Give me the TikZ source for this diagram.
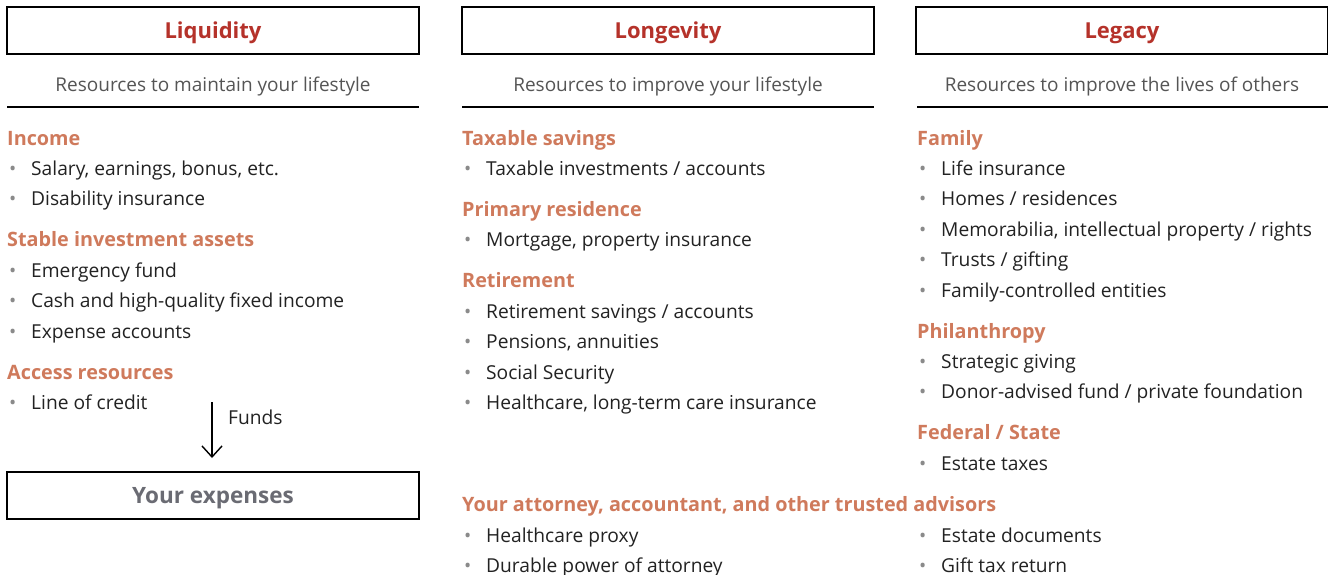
\documentclass[tikz,border=0pt]{standalone}
\usepackage{fontspec}
\setmainfont{Open Sans}
\usepackage{xcolor}
\usetikzlibrary{positioning, arrows.meta}

\definecolor{titlered}{HTML}{B5322A}
\definecolor{headorange}{HTML}{CF7A5C}
\definecolor{subgray}{HTML}{555555}
\definecolor{itemblack}{HTML}{222222}
\definecolor{bulletgray}{HTML}{8A8A8A}
\definecolor{boxgray}{HTML}{6A6B73}

\newcommand{\bul}{\makebox[24pt][l]{\hspace{2pt}\textcolor{bulletgray}{\textbullet}}}

\begin{document}
\begin{tikzpicture}[x=1pt, y=-1pt,
  titlebox/.style={draw, line width=1.6pt, minimum width=412pt, minimum height=47pt, font=\fontsize{22}{24}\selectfont\bfseries, text=titlered, inner sep=0pt, text depth=0pt},
  subtitle/.style={font=\fontsize{19}{21}\selectfont, text=subgray, inner sep=0pt, yshift=-3pt},
  heading/.style={anchor=mid west, font=\fontsize{19.8}{21}\selectfont\bfseries, text=headorange, inner sep=0pt, yshift=-5pt},
  item/.style={anchor=mid west, font=\fontsize{19.2}{21}\selectfont, text=itemblack, inner sep=0pt, yshift=-5pt}]
    \useasboundingbox (0,0) rectangle (1328,575);
    % Boxes
    \node[titlebox] (liq) at (213,30.5) {Liquidity};
    \node[titlebox] (lon) at (668,30.5) {Longevity};
    \node[titlebox] (leg) at (1122,30.5) {Legacy};
    % Subtitles and rules
    \node[subtitle] (liqsub) at (213,84) {Resources to maintain your lifestyle};
    \node[subtitle] (lonsub) at (668,84) {Resources to improve your lifestyle};
    \node[subtitle] (legsub) at (1122,84) {Resources to improve the lives of others};
    \draw[line width=1.6pt] (7,107) -- (419,107);
    \draw[line width=1.6pt] (462,107) -- (874,107);
    \draw[line width=1.6pt] (917,107) -- (1328,107);
    % Liquidity
    \node[heading] (income) at (7,138) {Income};
    \node[item] (salary) at (7,168) {\bul Salary, earnings, bonus, etc.};
    \node[item] (disab) at (7,198) {\bul Disability insurance};
    \node[heading] (stable) at (7,239) {Stable investment assets};
    \node[item] (emerg) at (7,270) {\bul Emergency fund};
    \node[item] (cash) at (7,300) {\bul Cash and high-quality fixed income};
    \node[item] (expacc) at (7,331) {\bul Expense accounts};
    \node[heading] (access) at (7,372) {Access resources};
    \node[item] (credit) at (7,402) {\bul Line of credit};
    \node[titlebox, text=boxgray, font=\fontsize{22.5}{24}\selectfont\bfseries] (expenses) at (213,495.5) {Your expenses};
    \coordinate (fundtop) at (212,402);
    \coordinate (fundend) at (212,458);
    \draw[-{Straight Barb[length=11pt,width=20pt]}, line width=1.4pt] (fundtop) -- (fundend);
    \node[item] (funds) at (228,417) {Funds};
    % Longevity
    \node[heading] (taxable) at (462,138) {Taxable savings};
    \node[item] (taxinv) at (462,168) {\bul Taxable investments / accounts};
    \node[heading] (primary) at (462,209) {Primary residence};
    \node[item] (mortgage) at (462,239) {\bul Mortgage, property insurance};
    \node[heading] (retire) at (462,280) {Retirement};
    \node[item] (retsav) at (462,311) {\bul Retirement savings / accounts};
    \node[item] (pension) at (462,341) {\bul Pensions, annuities};
    \node[item] (social) at (462,372) {\bul Social Security};
    \node[item] (health) at (462,402) {\bul Healthcare, long-term care insurance};
    % Legacy
    \node[heading] (family) at (917,138) {Family};
    \node[item] (life) at (917,168) {\bul Life insurance};
    \node[item] (homes) at (917,198) {\bul Homes / residences};
    \node[item] (memo) at (917,229) {\bul Memorabilia, intellectual property / rights};
    \node[item] (trusts) at (917,259) {\bul Trusts / gifting};
    \node[item] (famctl) at (917,290) {\bul Family-controlled entities};
    \node[heading] (phil) at (917,331) {Philanthropy};
    \node[item] (strat) at (917,361) {\bul Strategic giving};
    \node[item] (donor) at (917,391) {\bul Donor-advised fund / private foundation};
    \node[heading] (federal) at (917,432) {Federal / State};
    \node[item] (estate) at (917,463) {\bul Estate taxes};
    % Advisors
    \node[heading] (advisors) at (462,504) {Your attorney, accountant, and other trusted advisors};
    \node[item] (proxy) at (462,535) {\bul Healthcare proxy};
    \node[item] (durable) at (462,565) {\bul Durable power of attorney};
    \node[item] (estdoc) at (917,535) {\bul Estate documents};
    \node[item] (gift) at (917,565) {\bul Gift tax return};
\end{tikzpicture}
\end{document}
